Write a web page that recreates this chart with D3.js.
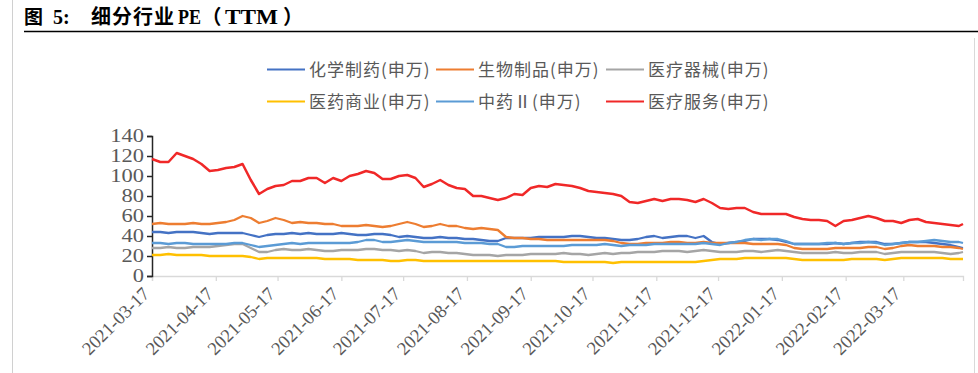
<!DOCTYPE html>
<html>
<head>
<meta charset="utf-8">
<script src="https://cdn.jsdelivr.net/npm/d3@7"></script>
<style>
  body { margin: 0; background: #fff; }
  #chart { width: 978px; height: 373px; }
</style>
</head>
<body>
<div id="chart"></div>
<script>

// sample dates (every 4 calendar days)
var dates = [
  "2021-03-17","2021-03-21","2021-03-25","2021-03-29","2021-04-02","2021-04-06","2021-04-10","2021-04-14","2021-04-18","2021-04-22",
  "2021-04-26","2021-04-30","2021-05-04","2021-05-08","2021-05-12","2021-05-16","2021-05-20","2021-05-24","2021-05-28","2021-06-01",
  "2021-06-05","2021-06-09","2021-06-13","2021-06-17","2021-06-21","2021-06-25","2021-06-29","2021-07-03","2021-07-07","2021-07-11",
  "2021-07-15","2021-07-19","2021-07-23","2021-07-27","2021-07-31","2021-08-04","2021-08-08","2021-08-12","2021-08-16","2021-08-20",
  "2021-08-24","2021-08-28","2021-09-01","2021-09-05","2021-09-09","2021-09-13","2021-09-17","2021-09-21","2021-09-25","2021-09-29",
  "2021-10-03","2021-10-07","2021-10-11","2021-10-15","2021-10-19","2021-10-23","2021-10-27","2021-10-31","2021-11-04","2021-11-08",
  "2021-11-12","2021-11-16","2021-11-20","2021-11-24","2021-11-28","2021-12-02","2021-12-06","2021-12-10","2021-12-14","2021-12-18",
  "2021-12-22","2021-12-26","2021-12-30","2022-01-03","2022-01-07","2022-01-11","2022-01-15","2022-01-19","2022-01-23","2022-01-27",
  "2022-01-31","2022-02-04","2022-02-08","2022-02-12","2022-02-16","2022-02-20","2022-02-24","2022-02-28","2022-03-04","2022-03-08",
  "2022-03-12","2022-03-16","2022-03-20","2022-03-24","2022-03-28","2022-04-01","2022-04-05","2022-04-09","2022-04-13","2022-04-15"
];

var chemPharma = [44,44,43,44,44,44,43,42,43,43, 43,43,41,39,41,42,42,43,42,43, 42,42,42,43,42,41,41,42,42,41,
  39,40,39,38,38,39,38,38,37,37, 36,35,35,38,38,38,38,39,39,39, 39,40,40,39,38,38,37,36,36,37,
  39,40,38,39,40,40,38,40,34,32, 33,34,35,37,37,37,36,34,32,32, 32,32,32,33,32,33,34,34,34,32,
  32,33,34,34,34,33,32,31,29,28];

var bioProducts = [52,53,52,52,52,53,52,52,53,54, 56,60,58,53,55,58,56,53,54,53, 53,52,52,50,50,50,51,50,49,50,
  52,54,52,49,50,52,50,50,48,47, 48,47,46,39,38,38,37,37,36,36, 36,36,36,36,36,36,35,33,32,32,
  33,33,33,34,34,33,33,34,33,33, 33,33,33,32,32,32,32,31,28,27, 27,27,27,28,28,28,28,29,29,27,
  28,30,31,30,30,30,29,29,28,27];

var medDevices = [28,28,29,28,28,29,29,29,30,31, 32,32,28,24,24,26,27,26,26,27, 26,25,25,26,26,26,27,27,26,26,
  25,26,25,23,24,24,23,23,22,21, 21,21,20,21,21,21,22,22,22,22, 23,22,22,21,22,23,22,23,23,24,
  24,24,25,25,25,24,25,26,25,24, 24,24,25,25,24,25,26,25,24,23, 23,23,23,24,23,23,24,24,24,22,
  23,24,24,24,24,24,23,22,23,24];

var medCommerce = [21,21,22,21,21,21,21,20,20,20, 20,20,19,17,18,18,18,18,18,18, 18,17,17,17,17,16,16,16,16,15,
  15,16,16,15,15,15,15,15,15,15, 15,15,15,15,15,15,15,15,15,15, 14,14,14,14,14,14,13,14,14,14,
  14,14,14,14,14,14,14,15,16,17, 17,17,18,18,18,18,18,18,17,16, 16,16,16,16,16,17,17,17,17,16,
  17,18,18,18,18,18,18,17,17,17];

var tcm = [33,33,32,33,33,32,32,32,32,32, 33,33,31,29,30,31,32,33,32,33, 33,33,33,33,33,34,36,36,34,34,
  35,36,35,34,34,34,34,34,33,33, 33,32,32,29,29,30,30,30,30,30, 30,31,31,31,31,32,31,30,31,31,
  31,32,32,32,32,32,32,33,32,31, 33,34,36,37,36,37,37,35,32,32, 32,32,33,33,32,33,33,34,33,31,
  32,33,34,34,35,36,35,34,34,33];

var medServices = [117,114,114,123,120,117,112,105,106,108, 109,112,96,82,87,90,91,95,95,98, 98,93,98,95,100,102,105,103,97,97,
  100,101,98,89,92,96,91,88,87,80, 80,78,76,78,82,81,88,90,89,92, 91,90,88,85,84,83,82,80,74,73,
  75,77,75,77,77,76,74,77,73,68, 67,68,68,64,62,62,62,62,59,57, 56,56,55,50,55,56,58,60,58,55,
  55,53,56,57,54,53,52,51,50,52];

var seriesNames = ["化学制药(申万)", "生物制品(申万)", "医疗器械(申万)", "医药商业(申万)", "中药Ⅱ(申万)", "医疗服务(申万)"];
var seriesColors = ["#4472C4", "#ED7D31", "#A5A5A5", "#FFC000", "#5B9BD5", "#F02828"];
var seriesValues = [chemPharma, bioProducts, medDevices, medCommerce, tcm, medServices];

var xTickLabels = ["2021-03-17","2021-04-17","2021-05-17","2021-06-17","2021-07-17","2021-08-17","2021-09-17",
  "2021-10-17","2021-11-17","2021-12-17","2022-01-17","2022-02-17","2022-03-17"];
var yTicks = [0, 20, 40, 60, 80, 100, 120, 140];


var parseDate = d3.timeParse("%Y-%m-%d");
var width = 978, height = 373;
var serif = "'Liberation Serif',serif";
var cjk = "'Noto Sans CJK SC',sans-serif";

var svg = d3.select("#chart")
    .append("svg")
    .attr("width", width)
    .attr("height", height);

// page frame + title
svg.append("line")
    .attr("x1", 12.5).attr("x2", 12.5)
    .attr("y1", 0).attr("y2", height)
    .attr("stroke", "#d0d0d0").attr("stroke-width", 1);
svg.append("line")
    .attr("x1", 974.5).attr("x2", 974.5)
    .attr("y1", 38).attr("y2", height)
    .attr("stroke", "#d9d9d9").attr("stroke-width", 1);

var titleParts = [
    {t: "图", x: 24, f: cjk, s: 19},
    {t: "5:", x: 53, f: serif, s: 20},
    {t: "细分行业", x: 91, f: cjk, s: 20, ls: 1},
    {t: "PE", x: 178, f: serif, s: 20, len: 23},
    {t: "（", x: 201.5, f: cjk, s: 20},
    {t: "TTM", x: 225, f: serif, s: 20, len: 53},
    {t: "）", x: 283, f: cjk, s: 20}
];
var title = svg.append("text")
    .attr("y", 24)
    .attr("font-weight", "700")
    .attr("fill", "#000");
titleParts.forEach(function(p) {
    var t = title.append("tspan")
        .attr("x", p.x)
        .attr("font-family", p.f)
        .attr("font-size", p.s + "px")
        .text(p.t);
    if (p.ls) t.attr("letter-spacing", p.ls + "px");
    if (p.len) t.attr("textLength", p.len).attr("lengthAdjust", "spacingAndGlyphs");
});

svg.append("line")
    .attr("x1", 24).attr("x2", width)
    .attr("y1", 31.5).attr("y2", 31.5)
    .attr("stroke", "#000").attr("stroke-width", 1.5);

var x = d3.scaleTime()
    .domain([parseDate("2021-03-17"), parseDate("2022-04-15")])
    .range([152, 963]);

var y = d3.scaleLinear()
    .domain([0, 140])
    .range([276, 136]);

// x axis
var xAxis = svg.append("g")
    .attr("transform", "translate(0,276)")
    .call(d3.axisBottom(x)
        .tickValues(xTickLabels.map(parseDate))
        .tickFormat(d3.timeFormat("%Y-%m-%d"))
        .tickSizeOuter(0)
        .tickSize(5));

xAxis.select(".domain").attr("stroke", "#d9d9d9").attr("stroke-width", 1.3);
xAxis.selectAll(".tick line").attr("stroke", "#d9d9d9").attr("stroke-width", 1.3);
xAxis.selectAll(".tick text")
    .attr("x", 0).attr("y", 0).attr("dy", null)
    .attr("text-anchor", "end")
    .attr("transform", "translate(-2,19) rotate(-45)")
    .attr("font-family", serif)
    .attr("font-size", "18.5px")
    .attr("fill", "#595959");

// y axis
var yAxis = svg.append("g")
    .attr("transform", "translate(152,0)")
    .call(d3.axisLeft(y)
        .tickValues(yTicks)
        .tickSizeOuter(0)
        .tickSize(5)
        .tickPadding(3));

yAxis.select(".domain").attr("stroke", "#262626").attr("stroke-width", 1.5);
yAxis.selectAll(".tick line").attr("stroke", "#262626").attr("stroke-width", 1.5);
yAxis.selectAll(".tick text")
    .attr("x", 0)
    .attr("transform", "translate(-8,0) scale(1.25,1)")
    .attr("font-family", serif)
    .attr("font-size", "18px")
    .attr("fill", "#595959");

// lines
var line = d3.line()
    .x(function(d, i) { return x(parseDate(dates[i])); })
    .y(function(d) { return y(d); });

seriesValues.forEach(function(vals, k) {
    svg.append("path")
        .datum(vals)
        .attr("fill", "none")
        .attr("stroke", seriesColors[k])
        .attr("stroke-width", k == 5 ? 2.5 : 2.3)
        .attr("stroke-linejoin", "round")
        .attr("d", line);
});

// legend
var legendX = [267, 436, 606];
var legendY = [69.5, 101.5];

seriesNames.forEach(function(name, k) {
    var lx = legendX[k % 3];
    var ly = legendY[Math.floor(k / 3)];
    svg.append("line")
        .attr("x1", lx).attr("x2", lx + 38)
        .attr("y1", ly).attr("y2", ly)
        .attr("stroke", seriesColors[k])
        .attr("stroke-width", 2);
    svg.append("text")
        .attr("x", lx + 42)
        .attr("y", ly + 6)
        .attr("font-family", cjk)
        .attr("font-size", "17px")
        .attr("letter-spacing", "1px")
        .attr("fill", "#595959")
        .text(name);
});

</script>
</body>
</html>
